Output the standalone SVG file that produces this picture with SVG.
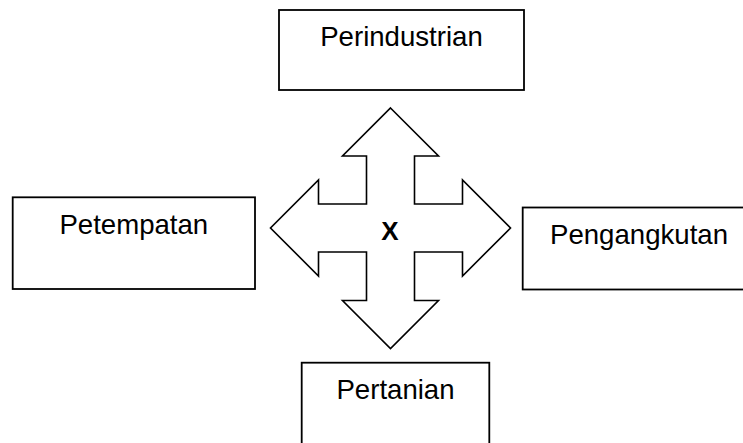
<svg xmlns="http://www.w3.org/2000/svg" width="743" height="443" viewBox="0 0 743 443">
<style>
.box{fill:#fff;stroke:#000;stroke-width:1.8}
.lbl{font-family:"Liberation Sans",Arial,sans-serif;font-size:27.6px;fill:#000;text-anchor:middle}
.cross{fill:#fff;stroke:#000;stroke-width:1.6;stroke-linejoin:miter}
</style>
<rect width="743" height="443" fill="#fff"/>
<g id="connectors">
<path class="cross" d="M390.5,108 L438.5,156 L414.5,156 L414.5,204 L462.5,204 L462.5,180 L510.5,228 L462.5,276 L462.5,252 L414.5,252 L414.5,300.5 L438.5,300.5 L390.5,348.5 L342.5,300.5 L366.5,300.5 L366.5,252 L318.5,252 L318.5,276 L270.5,228 L318.5,180 L318.5,204 L366.5,204 L366.5,156 L342.5,156 Z"/>
<text x="390" y="240" style="font-family:'Liberation Sans',Arial,sans-serif;font-size:26px;font-weight:bold;text-anchor:middle">X</text>
</g>
<g id="perindustrian">
<rect class="box" x="279" y="10" width="245" height="80"/>
<text class="lbl" x="401.5" y="45.5">Perindustrian</text>
</g>
<g id="petempatan">
<rect class="box" x="12.7" y="197.3" width="242.3" height="91.7"/>
<text class="lbl" x="133.8" y="233.5">Petempatan</text>
</g>
<g id="pengangkutan">
<rect class="box" x="522.7" y="207.5" width="240" height="82"/>
<text class="lbl" x="639" y="243.5">Pengangkutan</text>
</g>
<g id="pertanian">
<rect class="box" x="301.7" y="362.7" width="187.6" height="100"/>
<text class="lbl" x="395.5" y="398.5">Pertanian</text>
</g>
</svg>
